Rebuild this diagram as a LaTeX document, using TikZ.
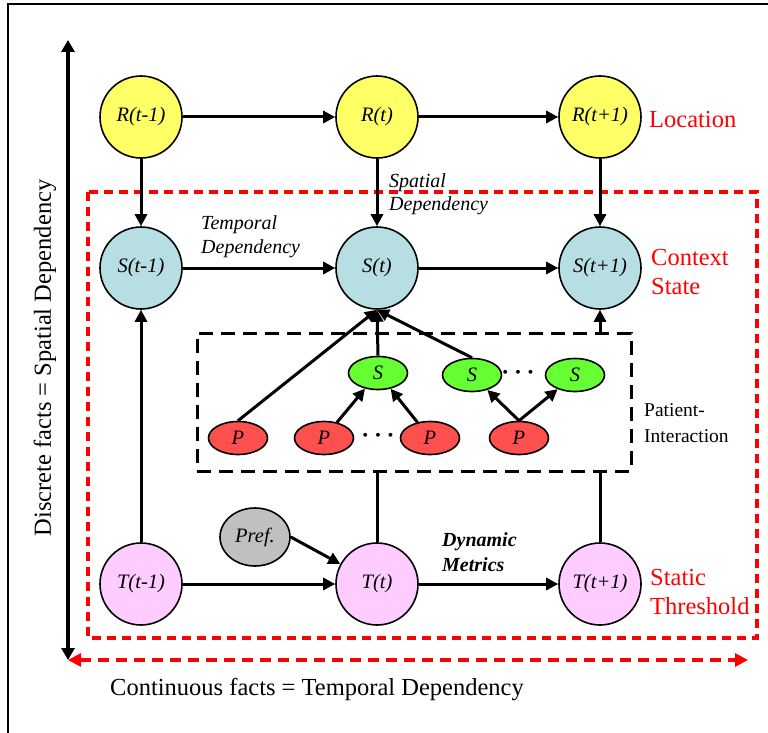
\documentclass[tikz,border=0pt]{standalone}
\usepackage{fontspec}
\setmainfont{Liberation Serif}
\usetikzlibrary{arrows.meta,shapes.geometric}

\definecolor{locyellow}{HTML}{FFFF66}
\definecolor{ctxblue}{HTML}{B7DFE3}
\definecolor{thrpink}{HTML}{FFCCFF}
\definecolor{sengreen}{HTML}{66FF33}
\definecolor{patred}{HTML}{FF5050}
\definecolor{prefgray}{HTML}{C0C0C0}

\tikzset{
  var/.style={circle, draw, line width=1.6pt, minimum size=82pt, inner sep=0pt,
    font=\fontsize{20.5}{22}\selectfont\itshape},
  leaf/.style={ellipse, draw, line width=1.6pt, minimum width=59pt,
    minimum height=33pt, inner sep=0pt, font=\fontsize{20.5}{22}\selectfont\itshape},
  link/.style={line width=3pt, -{Triangle[length=12pt,width=12pt]}},
  wire/.style={line width=3pt},
  tag/.style={inner sep=0pt, anchor=west, align=left, text=red,
    font=\fontsize{24.5}{29}\selectfont},
  remark/.style={inner sep=0pt, anchor=west, align=left,
    font=\fontsize{20}{23}\selectfont\itshape}
}

\begin{document}
\begin{tikzpicture}[x=1pt, y=-1pt]
  \useasboundingbox (0,0) rectangle (768,733);

  % frame
  \draw[line width=1.8pt] (8,745) -- (8,4) -- (780,4);

  % axes
  \coordinate (origin) at (68,660);
  \coordinate (ytop) at (68,40);
  \coordinate (xend) at (748,660);
  \draw[line width=3.5pt, {Triangle[length=12pt,width=13pt]}-{Triangle[length=12pt,width=13pt]}]
    (ytop) -- (origin);
  \draw[line width=3.2pt, red, dash pattern=on 11pt off 7pt,
    {Triangle[length=13pt,width=13pt]}-{Triangle[length=13pt,width=13pt]}]
    (origin) -- (xend);
  \node[rotate=90, font=\fontsize{24.5}{29}\selectfont] (ylab) at (45,358)
    {Discrete facts = Spatial Dependency};
  \node[font=\fontsize{24.5}{29}\selectfont] (xlab) at (317,690)
    {Continuous facts = Temporal Dependency};

  % context frame
  \draw[line width=3.2pt, red, dash pattern=on 9pt off 6pt] (88,192) rectangle (757,638);

  % location row
  \node[var, fill=locyellow] (loc0) at (141,117) {R(t-1)};
  \node[var, fill=locyellow] (loc1) at (377,117) {R(t)};
  \node[var, fill=locyellow] (loc2) at (600,117) {R(t+1)};

  % context row
  \node[var, fill=ctxblue] (ctx0) at (141,268) {S(t-1)};
  \node[var, fill=ctxblue] (ctx1) at (377,268) {S(t)};
  \node[var, fill=ctxblue] (ctx2) at (600,268) {S(t+1)};

  % threshold row
  \node[var, fill=thrpink] (thr0) at (141,584) {T(t-1)};
  \node[var, fill=thrpink] (thr1) at (377,584) {T(t)};
  \node[var, fill=thrpink] (thr2) at (600,584) {T(t+1)};

  \node[ellipse, draw, line width=1.6pt, fill=prefgray, minimum width=70pt,
    minimum height=58pt, inner sep=0pt, font=\fontsize{20.5}{22}\selectfont\itshape]
    (pref) at (255,537) {Pref.};

  % patient interaction
  \node[draw, line width=3pt, dash pattern=on 14pt off 8pt,
    minimum width=434pt, minimum height=138pt] (pi) at (414,402) {};
  \node[leaf, fill=sengreen] (sen1) at (378,373) {S};
  \node[leaf, fill=sengreen] (sen2) at (472,375) {S};
  \node[leaf, fill=sengreen] (sen3) at (575,375) {S};
  \node[leaf, fill=patred] (pat1) at (238,438) {P};
  \node[leaf, fill=patred] (pat2) at (324,438) {P};
  \node[leaf, fill=patred] (pat3) at (430,438) {P};
  \node[leaf, fill=patred] (pat4) at (519,438) {P};
  \node[font=\fontsize{29}{30}\selectfont\boldmath] (pdots) at (378,436) {$\cdots$};
  \node[font=\fontsize{23}{24}\selectfont\boldmath] (sdots) at (518,373) {$\cdots$};

  % labels
  \node[tag] (loclab) at (649,120) {Location};
  \node[tag] (ctxlab) at (651,272) {Context\\State};
  \node[tag] (thrlab) at (650,592) {Static\\Threshold};
  \node[inner sep=0pt, anchor=west, align=left, font=\fontsize{19.5}{26}\selectfont]
    (pilab) at (644,423) {Patient-\\Interaction};
  \node[remark] (spalab) at (389,194) {Spatial\\Dependency};
  \node[remark, font=\fontsize{20}{24}\selectfont\itshape] (temlab) at (201,237)
    {Temporal\\Dependency};
  \node[remark, font=\fontsize{20}{25}\selectfont\bfseries\itshape] (dynlab) at (442,552)
    {Dynamic\\Metrics};

  % temporal links
  \draw[link] (loc0) -- (loc1);
  \draw[link] (loc1) -- (loc2);
  \draw[link] (ctx0) -- (ctx1);
  \draw[link] (ctx1) -- (ctx2);
  \draw[link] (thr0) -- (thr1);
  \draw[link] (thr1) -- (thr2);

  % spatial links
  \draw[link] (loc0) -- (ctx0);
  \draw[link] (loc1) -- (ctx1);
  \draw[link] (loc2) -- (ctx2);
  \draw[link] (thr0) -- (ctx0);
  \draw[wire] (thr1) -- (thr1 |- pi.south);
  \draw[wire] (thr2) -- (thr2 |- pi.south);
  \draw[link] (ctx2 |- pi.north) -- (ctx2);
  \draw[link] (pref.east) -- (thr1);

  % inside the box
  \draw[link] (pat1.north) -- (ctx1.south);
  \draw[link] (sen1.north) -- (ctx1.south);
  \draw[link] (sen2.north) -- (ctx1.south);
  \draw[link] (pat2) -- (sen1);
  \draw[link] (pat3) -- (sen1);
  \draw[link] (pat4.north) -- (sen2);
  \draw[link] (pat4.north) -- (sen3);

\end{tikzpicture}
\end{document}
